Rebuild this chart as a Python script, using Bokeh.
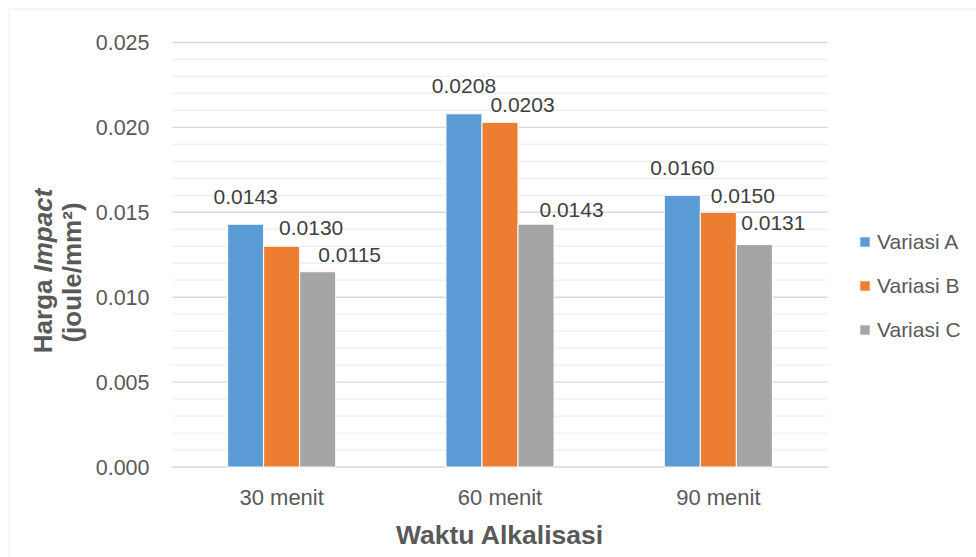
import math
import numpy as np
from bokeh.plotting import figure
from bokeh.models import (Range1d, ColumnDataSource, Legend, LegendItem, Label, BoxAnnotation)
from bokeh.core.properties import value
from bokeh.embed import file_html
from bokeh.resources import INLINE

# ---- data ----
categories = ["30 menit", "60 menit", "90 menit"]
series_names = ["Variasi A", "Variasi B", "Variasi C"]
variasi_a = [0.0143, 0.0208, 0.0160]
variasi_b = [0.0130, 0.0203, 0.0150]
variasi_c = [0.0115, 0.0143, 0.0131]
y_ticks = [0.000, 0.005, 0.010, 0.015, 0.020, 0.025]
y_minor_step = 0.001

# ---- layout / style ----
FONT = "Liberation Sans"
W, H = 976, 557
PL, PR, PT, PB = 172, 827, 42, 466.5      # plot area in canvas pixels
YMAX = y_ticks[-1]
ncat = len(categories)
ppx = (PR - PL) / ncat
ppy = (PB - PT) / YMAX


def px2x(px):
    return (px - PL) / ppx


def px2y(py):
    return (PB - py) / ppy


colors = ["#5B9BD5", "#ED7D31", "#A5A5A5"]
offsets = [-0.165, 0.0, 0.165]
bar_w = 0.165
# per-label pixel nudges (as placed in the original chart)
label_dx = [[0, 0, 0], [29.5, 22.5, 24.5], [32, 35.5, 19]]
label_gap = [[18, 19, 18], [9, 8, 7], [8, 5, 13]]
TXT = "#595959"

p = figure(width=W, height=H, x_range=Range1d(px2x(0), px2x(W)),
           y_range=Range1d(px2y(H), px2y(0)), min_border=0,
           x_axis_location=None, y_axis_location=None,
           output_backend="svg", toolbar_location=None)
p.outline_line_color = None
p.background_fill_color = "white"
p.border_fill_color = "white"
p.xgrid.grid_line_color = None
p.ygrid.grid_line_color = None

cat_x = [i + 0.5 for i in range(ncat)]

# gridlines (minor then major)
minor_vals = [round(v, 4) for v in np.arange(0, YMAX + 1e-9, y_minor_step)
              if all(abs(v - t) > 1e-9 for t in y_ticks)]
p.segment(x0=[0] * len(minor_vals), x1=[ncat] * len(minor_vals), y0=minor_vals, y1=minor_vals,
          line_color="#efefef", line_width=1.3)
p.segment(x0=[0] * len(y_ticks), x1=[ncat] * len(y_ticks), y0=y_ticks, y1=y_ticks,
          line_color="#d9d9d9", line_width=1.4)

# bars + data labels
all_series = [variasi_a, variasi_b, variasi_c]
renderers = []
for i, vals in enumerate(all_series):
    src = ColumnDataSource(dict(
        x=[c + offsets[i] for c in cat_x], val=vals, txt=[f"{v:.4f}" for v in vals],
        dx=label_dx[i], dy=[-(g + 9) for g in label_gap[i]]))
    r = p.vbar(x="x", top="val", width=bar_w, source=src, fill_color=colors[i],
               line_color="white", line_width=1)
    renderers.append(r)
    p.text(x="x", y="val", text="txt", x_offset="dx", y_offset="dy", source=src,
           text_align="center", text_baseline="middle",
           text_font=value(FONT), text_font_size="21px", text_color="#404040")

# y tick labels
p.text(x=[0] * len(y_ticks), y=y_ticks, text=[f"{t:.3f}" for t in y_ticks],
       x_offset=-23, text_align="right", text_baseline="middle",
       text_font=value(FONT), text_font_size="21.5px", text_color=TXT)

# category labels
p.text(x=cat_x, y=[0] * ncat, text=categories, y_offset=30,
       text_align="center", text_baseline="middle",
       text_font=value(FONT), text_font_size="22px", text_color=TXT)

# x axis title
p.text(x=[ncat / 2], y=[0], text=["Waktu Alkalisasi"], y_offset=67.5,
       text_align="center", text_baseline="middle",
       text_font=value(FONT), text_font_size="26.5px", text_font_style="bold",
       text_color=TXT)

# y axis title (two lines, "Impact" in italic)
lab_kw = dict(angle=math.pi / 2, text_font=FONT, text_font_size="26px",
              text_color=TXT, text_baseline="middle")
p.add_layout(Label(x=px2x(42), y=px2y(279), text="Harga", text_align="right",
                   text_font_style="bold", **lab_kw))
p.add_layout(Label(x=px2x(42), y=px2y(272), text="Impact", text_align="left",
                   text_font_style="bold italic", **lab_kw))
p.add_layout(Label(x=px2x(71), y=px2y(272), text="(joule/mm²)", text_align="center",
                   text_font_style="bold", **lab_kw))

# legend
legend = Legend(items=[LegendItem(label=n, renderers=[r]) for n, r in zip(series_names, renderers)],
                location=(858, H - 341.5), orientation="vertical",
                glyph_width=13, glyph_height=13, label_height=22,
                label_text_font=FONT, label_text_font_size="21px",
                label_text_color=TXT, label_standoff=6, spacing=20,
                padding=0, margin=0, border_line_color=None,
                background_fill_alpha=0)
p.add_layout(legend)

# outer chart border
p.add_layout(BoxAnnotation(left=px2x(8.5), right=px2x(W + 50), top=px2y(8.5), bottom=px2y(H + 50),
                           fill_alpha=0, line_color="#d9d9d9", line_width=1.5))

open("out.html", "w").write(file_html(p, INLINE))
